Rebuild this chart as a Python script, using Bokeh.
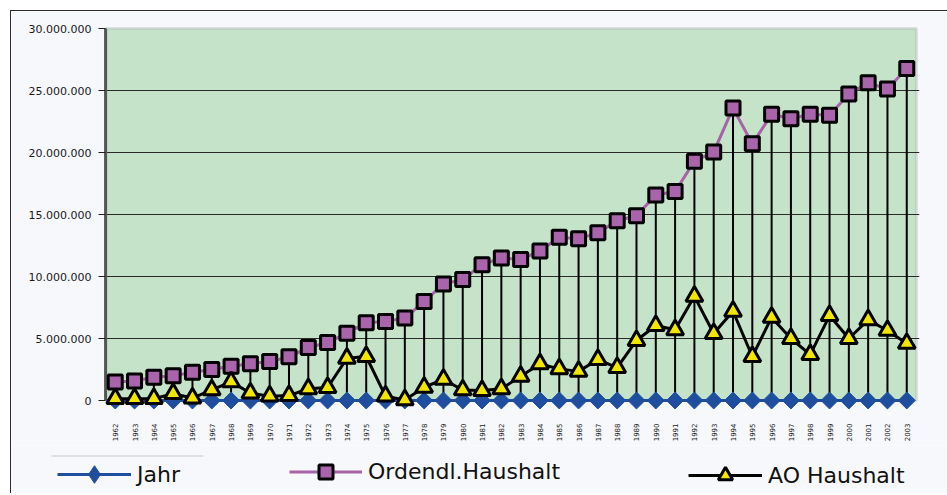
from bokeh.plotting import figure
from bokeh.layouts import column
from bokeh.models import (FactorRange, Range1d, FixedTicker, BoxAnnotation,
                          Legend, LegendItem, ColumnDataSource)
from bokeh.embed import file_html
from bokeh.resources import INLINE
import math

# ---------------- data ----------------
years = [str(y) for y in range(1962, 2004)]
jahr = [float(y) for y in range(1962, 2004)]
ordendl = [1.50e6, 1.57e6, 1.88e6, 2.00e6, 2.28e6, 2.50e6, 2.77e6, 2.97e6, 3.15e6, 3.52e6,
           4.27e6, 4.67e6, 5.43e6, 6.28e6, 6.37e6, 6.65e6, 7.98e6, 9.40e6, 9.76e6, 10.95e6,
           11.50e6, 11.38e6, 12.05e6, 13.17e6, 13.04e6, 13.52e6, 14.50e6, 14.90e6, 16.58e6, 16.85e6,
           19.30e6, 20.05e6, 23.58e6, 20.70e6, 23.08e6, 22.72e6, 23.08e6, 23.00e6, 24.72e6, 25.62e6,
           25.12e6, 26.78e6]
ao = [0.15e6, 0.15e6, 0.15e6, 0.55e6, 0.20e6, 0.85e6, 1.50e6, 0.60e6, 0.35e6, 0.40e6,
      0.95e6, 1.05e6, 3.40e6, 3.55e6, 0.35e6, 0.05e6, 1.07e6, 1.70e6, 0.85e6, 0.80e6,
      0.95e6, 1.95e6, 2.95e6, 2.55e6, 2.35e6, 3.30e6, 2.65e6, 4.84e6, 6.05e6, 5.70e6,
      8.40e6, 5.40e6, 7.20e6, 3.55e6, 6.70e6, 5.00e6, 3.70e6, 6.85e6, 5.00e6, 6.50e6,
      5.65e6, 4.60e6]
y_ticks = [0, 5000000, 10000000, 15000000, 20000000, 25000000, 30000000]
y_tick_labels = ["0", "5.000.000", "10.000.000", "15.000.000", "20.000.000", "25.000.000", "30.000.000"]
series_names = ["Jahr", "Ordendl.Haushalt", "AO Haushalt"]

# ---------------- styling ----------------
LIGHT = "#F7F8FC"
GREEN = "#C4E3C9"
BLUE = "#1F4E9F"
PURPLE = "#A862A8"
SQUARE_FILL = "#A964AB"
YELLOW = "#F2E600"
FONT = "DejaVu Sans"
W = 936

src = ColumnDataSource(dict(x=years, jahr=jahr, ordendl=ordendl, ao=ao))

p = figure(width=W, height=434, output_backend="svg", toolbar_location=None,
           x_range=FactorRange(factors=years, range_padding=0.16, range_padding_units="absolute"),
           y_range=Range1d(-806000, 30242000),
           min_border_left=91, min_border_right=28, min_border_top=14, min_border_bottom=35)
p.background_fill_color = LIGHT
p.border_fill_color = LIGHT
p.outline_line_color = None

# plot area
n = len(years)
area = BoxAnnotation(left=0, right=n, bottom=y_ticks[0], top=y_ticks[-1],
                     fill_color=GREEN, fill_alpha=1.0, line_color="#A6A6A6", line_width=3,
                     level="image")
p.add_layout(area)

# grid
p.xgrid.visible = False
p.ygrid.ticker = FixedTicker(ticks=y_ticks[1:-1])
p.ygrid.grid_line_color = "#2a2a2a"
p.ygrid.grid_line_width = 1

# axes
p.yaxis.ticker = FixedTicker(ticks=y_ticks)
p.yaxis.major_label_overrides = {t: l for t, l in zip(y_ticks, y_tick_labels)}
p.yaxis.axis_line_color = None
p.yaxis.major_tick_line_color = "#222222"
p.yaxis.major_tick_out = 4
p.yaxis.major_tick_in = 3
p.yaxis.minor_tick_line_color = None
p.yaxis.major_label_text_font = FONT
p.yaxis.major_label_text_font_size = "11px"
p.yaxis.major_label_text_color = "#1a1a1a"
p.yaxis.major_label_standoff = 7

p.xaxis.axis_line_color = None
p.xaxis.major_tick_line_color = None
p.xaxis.minor_tick_line_color = None
p.xaxis.major_label_orientation = math.pi / 2
p.xaxis.major_label_text_font = FONT
p.xaxis.major_label_text_font_size = "7px"
p.xaxis.major_label_text_color = "#1a1a1a"
p.xaxis.major_label_standoff = 7

# left axis line of plot area
p.segment(x0=[0], y0=[y_ticks[0]], x1=[0], y1=[y_ticks[-1]], line_color="#555555", line_width=3)

# high-low lines
p.segment(x0="x", y0="jahr", x1="x", y1="ordendl", source=src, line_color="black", line_width=2)

# series
p.line("x", "jahr", source=src, line_color=BLUE, line_width=3)
p.scatter("x", "jahr", source=src, marker="square", angle=math.pi / 4, size=12,
          fill_color=BLUE, line_color=BLUE, line_width=1)
p.line("x", "ordendl", source=src, line_color=PURPLE, line_width=3)
p.scatter("x", "ordendl", source=src, marker="square", size=14,
          fill_color=SQUARE_FILL, line_color="black", line_width=3)
p.line("x", "ao", source=src, line_color="black", line_width=3)
p.scatter("x", "ao", source=src, marker="triangle", size=17,
          fill_color=YELLOW, line_color="black", line_width=3)

# ---------------- legend strip ----------------
leg = figure(width=W, height=48, output_backend="svg", toolbar_location=None,
             x_range=Range1d(0, 1), y_range=Range1d(0, 1),
             x_axis_location=None, y_axis_location=None,
             min_border_left=0, min_border_right=0, min_border_top=0, min_border_bottom=0)
leg.frame_align = False
leg.background_fill_color = LIGHT
leg.border_fill_color = LIGHT
leg.outline_line_color = None
leg.grid.visible = False

# thin separator line above the first legend entry
leg.add_layout(BoxAnnotation(left=40, right=192, top=38, bottom=37,
                             left_units="screen", right_units="screen",
                             top_units="screen", bottom_units="screen",
                             fill_color="#C4C6CE", fill_alpha=1.0, line_color=None))

lsrc = ColumnDataSource(dict(x=jahr, jahr=jahr, ordendl=ordendl, ao=ao))
lj = [leg.line("x", "jahr", source=lsrc, line_color=BLUE, line_width=3),
      leg.scatter("x", "jahr", source=lsrc, marker="diamond", size=18,
                  fill_color=BLUE, line_color=BLUE, line_width=1)]
lo = [leg.line("x", "ordendl", source=lsrc, line_color=PURPLE, line_width=3),
      leg.scatter("x", "ordendl", source=lsrc, marker="square", size=14,
                  fill_color=SQUARE_FILL, line_color="black", line_width=3)]
la = [leg.line("x", "ao", source=lsrc, line_color="black", line_width=3),
      leg.scatter("x", "ao", source=lsrc, marker="triangle", size=17,
                  fill_color=YELLOW, line_color="black", line_width=3)]

def mk_legend(name, rends, loc, gw, gh):
    lg = Legend(items=[LegendItem(label=name, renderers=rends)], location=loc,
                glyph_width=gw, glyph_height=gh, label_standoff=6, padding=0, margin=0,
                border_line_color=None, background_fill_alpha=0,
                label_text_font=FONT, label_text_font_size="22px", label_text_color="#111111")
    leg.add_layout(lg)

mk_legend(series_names[0], lj, (46, -3), 74, 44)
mk_legend(series_names[1], lo, (278, 4), 73, 35)
mk_legend(series_names[2], la, (677, 0), 74, 36)

layout = column(p, leg, spacing=0,
                styles={"margin-left": "10px", "margin-top": "10px",
                        "border-top": "1px solid #2b2b2b", "border-left": "1px solid #2b2b2b"})

open("out.html", "w").write(file_html(layout, INLINE))
